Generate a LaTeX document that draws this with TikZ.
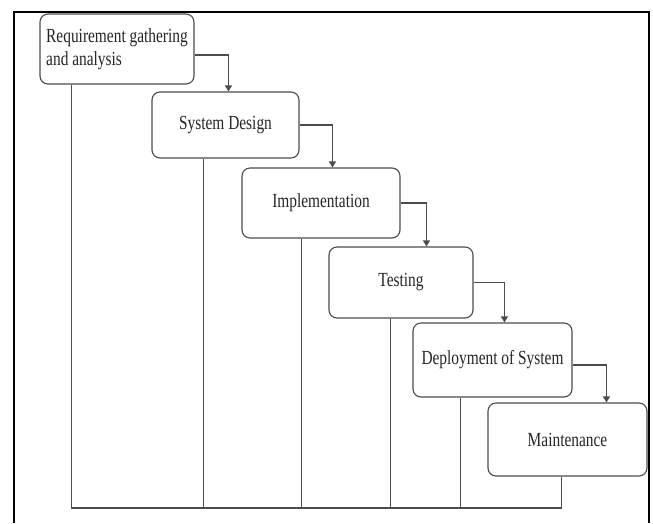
\documentclass[tikz,border=0pt]{standalone}
\usepackage{fontspec}
\setmainfont[FakeStretch=0.77]{Liberation Serif}
\usetikzlibrary{arrows.meta,calc}
\tikzset{
  stagebox/.style={draw=black!70, line width=1.1pt, rounded corners=8pt, fill=white,
    inner sep=0pt, align=center, text=black!85,
    font=\fontsize{20}{23}\selectfont},
  flow/.style={draw=black!70, line width=1.1pt, -{Triangle[width=7pt,length=6pt]}},
  link/.style={draw=black!70, line width=1.1pt},
  frameline/.style={draw=black, line width=1.8pt}
}
\begin{document}
\begin{tikzpicture}[x=1pt,y=-1pt]
\useasboundingbox (0,0) rectangle (653,523);
\draw[frameline] (14,523) -- (14,12) -- (649,12) -- (649,523);

\node[stagebox, minimum width=154pt, minimum height=70pt, align=left] (b1) at (117,49)
  {Requirement gathering\\and analysis};
\node[stagebox, minimum width=147pt, minimum height=66pt] (b2) at (225.5,125) {System Design};
\node[stagebox, minimum width=158pt, minimum height=70pt] (b3) at (321,203) {Implementation};
\node[stagebox, minimum width=144pt, minimum height=71pt] (b4) at (401,282.5) {Testing};
\node[stagebox, minimum width=159pt, minimum height=74pt] (b5) at (492.5,360) {Deployment of System};
\node[stagebox, minimum width=159pt, minimum height=73pt] (b6) at (567.5,439.5) {Maintenance};

\draw[flow] ([yshift=-6pt]b1.east) -| ([xshift=77pt]b2.north west);
\draw[flow] (b2.east) -| ([xshift=91pt]b3.north west);
\draw[flow] (b3.east) -| ([xshift=98pt]b4.north west);
\draw[flow] (b4.east) -| ([xshift=92pt]b5.north west);
\draw[flow] ([yshift=-5pt]b5.east) -| ([xshift=119pt]b6.north west);

\coordinate (base) at (0,508);
\coordinate (p1) at ([xshift=32pt]b1.south west);
\coordinate (p2) at ([xshift=52pt]b2.south west);
\coordinate (p3) at ([xshift=60pt]b3.south west);
\coordinate (p4) at ([xshift=62pt]b4.south west);
\coordinate (p5) at ([xshift=48pt]b5.south west);
\coordinate (p6) at ([xshift=74pt]b6.south west);
\draw[link] (p1) -- (p1 |- base) -- (p6 |- base) -- (p6);
\foreach \p in {p2,p3,p4,p5} \draw[link] (\p) -- (\p |- base);
\end{tikzpicture}
\end{document}
